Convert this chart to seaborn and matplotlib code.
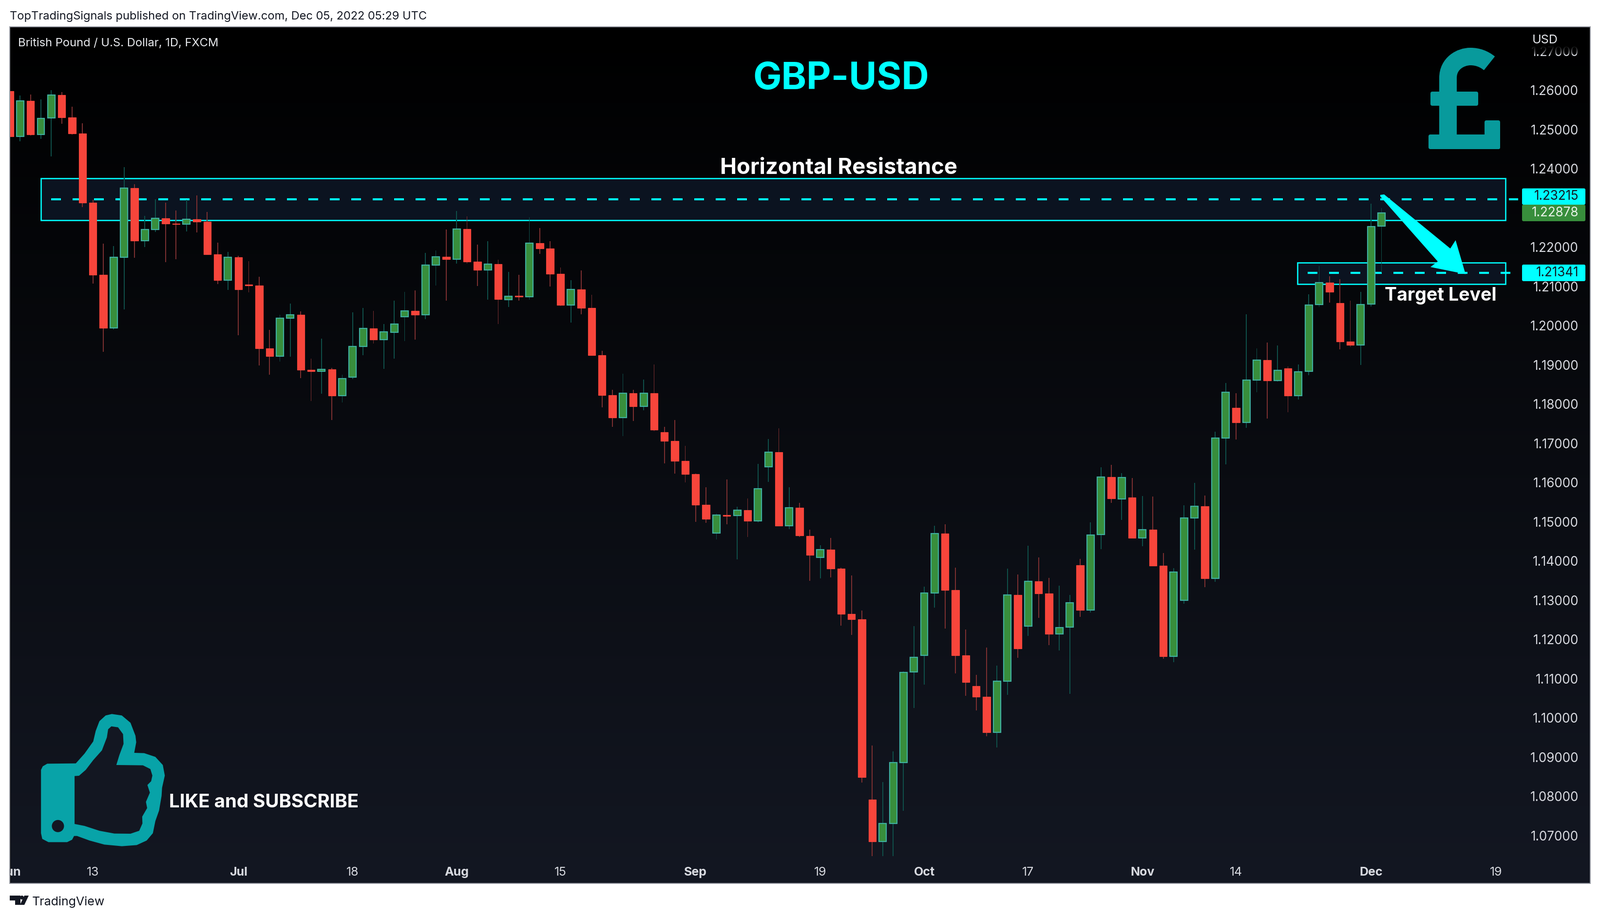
"""GBP-USD daily candles with resistance and target zones, TradingView look."""

import matplotlib

matplotlib.use("Agg")
import matplotlib.pyplot as plt
import numpy as np
import pandas as pd
import seaborn as sns
from matplotlib.patches import Ellipse, FancyBboxPatch, PathPatch, Polygon, Rectangle
from matplotlib.path import Path

# candles, one value per trading day starting Jun 1
candle_open = [
    1.25984, 1.24829, 1.25735, 1.24879, 1.25293, 1.25885, 1.25314, 1.24893, 1.23139, 1.21299,
    1.19944, 1.21749, 1.23503, 1.22169, 1.22455, 1.22740, 1.22597, 1.22583, 1.22718, 1.22647,
    1.21813, 1.21164, 1.21749, 1.21043, 1.21028, 1.19417, 1.19217, 1.20194, 1.20272, 1.18875,
    1.18832, 1.18889, 1.18219, 1.18682, 1.19474, 1.19923, 1.19638, 1.19834, 1.20233, 1.20379,
    1.20272, 1.21539, 1.21761, 1.21698, 1.22458, 1.21628, 1.21425, 1.21564, 1.20658, 1.20760,
    1.20741, 1.22097, 1.21970, 1.21317, 1.20531, 1.20918, 1.20455, 1.19251, 1.18231, 1.17660,
    1.18281, 1.17945, 1.18281, 1.17286, 1.17064, 1.16545, 1.16209, 1.15436, 1.14707, 1.15176,
    1.15155, 1.15298, 1.15020, 1.16399, 1.16779, 1.14894, 1.15353, 1.14640, 1.14086, 1.14284,
    1.13800, 1.12644, 1.12517, 1.07922, 1.06852, 1.07311, 1.08864, 1.11170, 1.11598, 1.13190,
    1.14704, 1.13254, 1.11598, 1.10805, 1.10536, 1.09625, 1.10940, 1.13135, 1.12335, 1.13476,
    1.13167, 1.12144, 1.12311, 1.13895, 1.12755, 1.14672, 1.16146, 1.15587, 1.15613, 1.14592,
    1.14802, 1.13883, 1.11563, 1.13002, 1.15093, 1.15391, 1.13553, 1.17140, 1.17907, 1.17527,
    1.18617, 1.19118, 1.18604, 1.18915, 1.18211, 1.18833, 1.20538, 1.21103, 1.20571, 1.19589,
    1.19501, 1.20549, 1.22534,
]
candle_close = [
    1.24829, 1.25735, 1.24879, 1.25286, 1.25885, 1.25314, 1.24893, 1.23139, 1.21299, 1.19944,
    1.21749, 1.23503, 1.22169, 1.22455, 1.22740, 1.22597, 1.22583, 1.22718, 1.22647, 1.21813,
    1.21164, 1.21749, 1.20929, 1.21028, 1.19417, 1.19217, 1.20194, 1.20272, 1.18868, 1.18832,
    1.18889, 1.18219, 1.18654, 1.19474, 1.19923, 1.19638, 1.19837, 1.20037, 1.20379, 1.20272,
    1.21539, 1.21761, 1.21698, 1.22458, 1.21628, 1.21425, 1.21564, 1.20671, 1.20753, 1.20741,
    1.22097, 1.21970, 1.21317, 1.20531, 1.20918, 1.20455, 1.19251, 1.18231, 1.17660, 1.18281,
    1.17945, 1.18281, 1.17350, 1.17064, 1.16545, 1.16209, 1.15436, 1.15068, 1.15176, 1.15150,
    1.15298, 1.15020, 1.15844, 1.16779, 1.14894, 1.15353, 1.14648, 1.14157, 1.14284, 1.13800,
    1.12644, 1.12517, 1.08492, 1.06852, 1.07311, 1.08864, 1.11162, 1.11550, 1.13190, 1.14704,
    1.13254, 1.11598, 1.10908, 1.10536, 1.09625, 1.10940, 1.13135, 1.11764, 1.13476, 1.13167,
    1.12144, 1.12303, 1.12937, 1.12755, 1.14664, 1.16146, 1.15591, 1.16133, 1.14592, 1.14802,
    1.13883, 1.11563, 1.13724, 1.15093, 1.15391, 1.13553, 1.17140, 1.18306, 1.17527, 1.18617,
    1.19118, 1.18604, 1.18864, 1.18211, 1.18826, 1.20531, 1.21098, 1.20859, 1.19595, 1.19501,
    1.20543, 1.22529, 1.22878,
]
candle_high = [
    1.26000, 1.25863, 1.25892, 1.25770, 1.25999, 1.25956, 1.25578, 1.25164, 1.23203, 1.22091,
    1.22034, 1.24045, 1.23603, 1.22797, 1.23225, 1.23139, 1.22939, 1.23203, 1.23317, 1.22904,
    1.22119, 1.21877, 1.21777, 1.21649, 1.21242, 1.19887, 1.20280, 1.20565, 1.20365, 1.19160,
    1.19666, 1.18925, 1.18746, 1.20337, 1.20451, 1.20372, 1.20037, 1.20633, 1.20855, 1.20893,
    1.21850, 1.21913, 1.22445, 1.22927, 1.22781, 1.22071, 1.22148, 1.21685, 1.21374, 1.21292,
    1.22756, 1.22483, 1.22148, 1.21476, 1.21165, 1.21412, 1.20791, 1.19353, 1.18358, 1.18769,
    1.18370, 1.18630, 1.19004, 1.17426, 1.17597, 1.16938, 1.16222, 1.15879, 1.15214, 1.16082,
    1.15385, 1.15599, 1.16478, 1.17112, 1.17382, 1.15884, 1.15488, 1.14799, 1.14402, 1.14593,
    1.13832, 1.13634, 1.12731, 1.09300, 1.08365, 1.09150, 1.11186, 1.12335, 1.13341, 1.14894,
    1.14941, 1.13824, 1.12248, 1.11099, 1.11796, 1.11328, 1.13800, 1.13650, 1.14395, 1.14094,
    1.13571, 1.13365, 1.13135, 1.14054, 1.14981, 1.16383, 1.16447, 1.16234, 1.16120, 1.15651,
    1.15638, 1.14206, 1.13819, 1.15416, 1.15987, 1.15664, 1.17299, 1.18541, 1.18281, 1.20290,
    1.19416, 1.19574, 1.19498, 1.18966, 1.19016, 1.20804, 1.21525, 1.21264, 1.21181, 1.20638,
    1.20865, 1.23106, 1.22995,
]
candle_low = [
    1.24800, 1.24694, 1.24843, 1.24758, 1.24309, 1.25143, 1.24872, 1.23018, 1.21078, 1.19338,
    1.19902, 1.20408, 1.21734, 1.21998, 1.22390, 1.21613, 1.21699, 1.22405, 1.22376, 1.21813,
    1.21057, 1.20914, 1.19759, 1.20843, 1.18989, 1.18746, 1.19089, 1.19203, 1.18661, 1.18083,
    1.18262, 1.17591, 1.18040, 1.18632, 1.19246, 1.19538, 1.18903, 1.19162, 1.19612, 1.19638,
    1.20170, 1.21026, 1.20633, 1.21577, 1.21577, 1.21007, 1.20658, 1.20037, 1.20481, 1.20633,
    1.20658, 1.21824, 1.20994, 1.20506, 1.20081, 1.20284, 1.19238, 1.17920, 1.17426, 1.17179,
    1.17565, 1.17838, 1.17312, 1.16494, 1.16222, 1.16000, 1.14992, 1.14967, 1.14550, 1.14941,
    1.14046, 1.14609, 1.14981, 1.16011, 1.14880, 1.14807, 1.14616, 1.13499, 1.13555, 1.13579,
    1.12350, 1.12121, 1.08349, 1.06472, 1.06472, 1.06472, 1.07628, 1.10251, 1.10853, 1.12810,
    1.12271, 1.11130, 1.10560, 1.10195, 1.09530, 1.09245, 1.10584, 1.11526, 1.12089, 1.12556,
    1.11851, 1.11717, 1.10607, 1.12580, 1.12691, 1.14307, 1.15488, 1.15042, 1.14592, 1.14371,
    1.13864, 1.11512, 1.11423, 1.12906, 1.14295, 1.13337, 1.13464, 1.16468, 1.17102, 1.17400,
    1.18300, 1.17635, 1.18579, 1.17787, 1.18110, 1.18731, 1.20471, 1.20582, 1.19401, 1.19451,
    1.19002, 1.20482, 1.21359,
]

# axis labels, 1.23000 is hidden behind the price tags in the original
price_ticks = [1.07, 1.08, 1.09, 1.10, 1.11, 1.12, 1.13, 1.14, 1.15, 1.16, 1.17,
               1.18, 1.19, 1.20, 1.21, 1.22, 1.24, 1.25, 1.26, 1.27]
date_tick_pos = [0, 8, 22, 33, 43, 53, 66, 78, 88, 98, 109, 118, 131, 143]
date_tick_labels = ["Jun", "13", "Jul", "18", "Aug", "15", "Sep", "19", "Oct", "17",
                    "Nov", "14", "Dec", "19"]
month_labels = ["Jun", "Jul", "Aug", "Sep", "Oct", "Nov", "Dec"]

# drawn levels
resistance_zone = (1.22689, 1.23759)
resistance_level = 1.23215
target_zone = (1.21060, 1.21603)
target_level = 1.21341
last_price = 1.22878

W, H = 3284, 1884
DPI = 200
LEFT, RIGHT, TOP, BOTTOM = 20, 3264, 54.5, 1813

RED = "#f7453b"
GREEN = "#388e3c"
GREEN_EDGE = "#3fb0a0"
RED_WICK = "#7b2f30"
GREEN_WICK = "#0f4f49"
CYAN = "#00ffff"
TEAL = "#089a9c"
FONT = "Inter"


def px_size(n):
    # pixels to points at the output dpi
    return n * 72 / DPI


def day_x(px):
    # pixel column to candle index
    return 1 + (px - 39.8) / 21.34


sns.set_theme(style="white", rc={"font.family": FONT, "axes.linewidth": 1.0})

frame = pd.DataFrame(
    {"open": candle_open, "high": candle_high, "low": candle_low, "close": candle_close}
)
frame["day"] = frame.index
frame["top"] = frame[["open", "close"]].max(axis=1)
frame["bottom"] = frame[["open", "close"]].min(axis=1)
frame["body"] = frame["top"] - frame["bottom"]
frame["wick"] = frame["high"] - frame["low"]
up = frame[frame["close"] >= frame["open"]]
down = frame[frame["close"] < frame["open"]]

fig = plt.figure(figsize=(W / DPI, H / DPI), dpi=DPI, facecolor="white")
ax = fig.add_axes(
    [LEFT / W, (H - BOTTOM) / H, (RIGHT - LEFT) / W, (BOTTOM - TOP) / H], facecolor="black"
)

xlim = (day_x(LEFT), day_x(RIGHT))
ylim = (1.26 - (BOTTOM - 185.3) / 8050, 1.26 + (185.3 - TOP) / 8050)

# background fades from black to the TradingView dark blue
fade = sns.blend_palette(["#000000", "#131722"], as_cmap=True)
ax.imshow(np.linspace(0, 1, 256)[:, None], extent=[*xlim, *ylim], aspect="auto", cmap=fade, zorder=0)

# zones sit behind the candles
for zone, start, end in [(resistance_zone, 82.6, 3090), (target_zone, 2663, 3090)]:
    ax.add_patch(
        Rectangle(
            (day_x(start), zone[0]), day_x(end) - day_x(start), zone[1] - zone[0],
            facecolor="#0b1320", edgecolor=CYAN, linewidth=px_size(2.6), zorder=0.5,
        )
    )
for level, start, end in [(resistance_level, 104, 3116), (target_level, 2684, 3100)]:
    ax.plot(
        [day_x(start), day_x(end)], [level, level], color=CYAN, linewidth=px_size(4.2),
        linestyle=(0, (20 / 4.2, 24 / 4.2)), dash_capstyle="butt", zorder=0.6,
    )

for subset, wick_color in [(up, GREEN_WICK), (down, RED_WICK)]:
    sns.barplot(
        data=subset, x="day", y="wick", bottom=subset["low"].values, native_scale=True,
        width=0.085, color=wick_color, saturation=1, linewidth=0, errorbar=None, ax=ax, zorder=1,
    )
sns.barplot(
    data=up, x="day", y="body", bottom=up["bottom"].values, native_scale=True, width=0.70,
    color=GREEN, saturation=1, edgecolor=GREEN_EDGE, linewidth=px_size(2.2), errorbar=None,
    ax=ax, zorder=2,
)
sns.barplot(
    data=down, x="day", y="body", bottom=down["bottom"].values, native_scale=True, width=0.72,
    color=RED, saturation=1, edgecolor=RED, linewidth=px_size(1.2), errorbar=None, ax=ax, zorder=2,
)

ax.set_xlim(*xlim)
ax.set_ylim(*ylim)
ax.set_xlabel("")
ax.set_ylabel("")
ax.set_xticks(date_tick_pos)
ax.set_xticklabels(date_tick_labels)
ax.set_yticks(price_ticks)
ax.set_yticklabels([f"{p:.5f}" for p in price_ticks])
ax.yaxis.tick_right()
ax.tick_params(axis="y", length=0, pad=-px_size(24), labelsize=px_size(26), labelcolor="#d8dae0")
ax.tick_params(axis="x", length=0, pad=-px_size(34), labelsize=px_size(25), labelcolor="#d8dae0")
for label in ax.get_yticklabels():
    label.set_ha("right")
for label in ax.get_xticklabels():
    if label.get_text() in month_labels:
        label.set_fontweight("bold")
    label.set_clip_box(ax.bbox)
    label.set_clip_on(True)
for spine in ax.spines.values():
    spine.set_color("#9598a1")
    spine.set_linewidth(px_size(2))

# overlay in image pixels for the annotations and icons
over = fig.add_axes([0, 0, 1, 1], facecolor="none")
over.set_xlim(0, W)
over.set_ylim(H, 0)
over.axis("off")

# price scale top fades out the clipped 1.27000 label
top_fade = np.zeros((32, 1, 4))
top_fade[:, 0, 3] = np.linspace(1, 0, 32) ** 0.5
over.imshow(top_fade, extent=[3130, 3260, 112, 94], aspect="auto", zorder=3)
over.add_patch(Rectangle((3130, 56), 130, 38, facecolor="black", linewidth=0, zorder=3))
over.set_xlim(0, W)
over.set_ylim(H, 0)
over.text(3145, 89, "USD", color="#e6e8ec", fontsize=px_size(25), va="baseline", ha="left", zorder=4)

# price tags
for y0, y1, level, face, ink in [
    (386.6, 420, resistance_level, CYAN, "#131722"),
    (420, 454, last_price, GREEN, "#e8f2e8"),
    (543, 577, target_level, CYAN, "#131722"),
]:
    over.add_patch(
        FancyBboxPatch(
            (3125, y0 + 1), 128, y1 - y0 - 2, boxstyle="round,pad=0,rounding_size=2",
            facecolor=face, edgecolor=face, linewidth=px_size(2), mutation_aspect=1, zorder=3,
        )
    )
    over.text(3240, (y0 + y1) / 2, f"{level:.5f}", color=ink, fontsize=px_size(26),
              ha="right", va="center", zorder=4)

# arrow to target
over.add_patch(
    Polygon(
        [(2833, 400), (2841, 399), (2976.7, 510), (2987.6, 493), (3008, 562.5), (2936, 548),
         (2951, 536.6), (2833, 403)],
        closed=True, facecolor=CYAN, edgecolor="none", zorder=3,
    )
)

# text annotations
fig.text(20 / W, 1 - 40 / H, "TopTradingSignals published on TradingView.com, Dec 05, 2022 05:29 UTC",
         color="#131722", fontsize=px_size(23.6), va="baseline", ha="left")
over.text(36.7, 94.7, "British Pound / U.S. Dollar, 1D, FXCM", color="#e9ebef", fontsize=px_size(23.7),
          va="baseline", ha="left")
over.text(1726.5, 183, "GBP-USD", color=CYAN, fontsize=px_size(78), fontweight="bold", va="baseline", ha="center")
over.text(1721.5, 356.7, "Horizontal Resistance", color="white", fontsize=px_size(45.5), fontweight="bold",
          va="baseline", ha="center")
over.text(2842, 617, "Target Level", color="white", fontsize=px_size(37.5), fontweight="bold",
          va="baseline", ha="left")
over.text(347, 1657, "LIKE and SUBSCRIBE", color="white", fontsize=px_size(38.5), fontweight="bold",
          va="baseline", ha="left")
fig.text(66 / W, 1 - 1858 / H, "TradingView", color="#131722", fontsize=px_size(25), va="baseline", ha="left")

# pound icon
pound = Path(
    [(2972, 280), (2972, 160), (2972, 130), (2998, 116), (3018, 116), (3033, 116), (3046, 121), (3057, 130)],
    [Path.MOVETO, Path.LINETO, Path.CURVE4, Path.CURVE4, Path.CURVE4, Path.CURVE4, Path.CURVE4, Path.CURVE4],
)
over.add_patch(PathPatch(pound, facecolor="none", edgecolor=TEAL, linewidth=px_size(36), capstyle="butt", zorder=2))
for x0, y0, bw, bh in [(2936, 188, 98, 29), (2932, 276, 147, 30), (3047, 247, 32, 59)]:
    over.add_patch(
        FancyBboxPatch((x0 + 3, y0 + 3), bw - 6, bh - 6, boxstyle="round,pad=3,rounding_size=4",
                       facecolor=TEAL, edgecolor="none", zorder=2)
    )

# thumbs up icon, traced in crop coordinates
thumb_outer = np.array([
    (165, 540), (172, 518), (190, 502), (305, 500), (340, 440), (375, 365), (385, 300), (400, 240),
    (425, 205), (450, 196), (490, 205), (525, 250), (545, 330), (548, 370), (540, 435), (580, 437),
    (625, 460), (655, 510), (663, 575), (652, 650), (650, 700), (640, 790), (625, 855), (615, 930),
    (590, 975), (550, 1003), (490, 1010), (420, 1000), (360, 975), (310, 947), (298, 947), (290, 970),
    (270, 985), (195, 985), (170, 965), (165, 930),
], dtype=float)
thumb_inner = np.array([
    (300, 578), (318, 576), (345, 540), (375, 480), (410, 420), (430, 340), (435, 290), (448, 272),
    (475, 278), (495, 320), (497, 380), (480, 450), (468, 510), (575, 512), (605, 535), (613, 575),
    (608, 610), (593, 633), (603, 680), (587, 737), (592, 775), (572, 828), (573, 870), (560, 915),
    (525, 933), (460, 932), (400, 915), (340, 885), (300, 873),
], dtype=float)
crop_scale = np.array([1 / 1.96, 1 / 3])
crop_shift = np.array([0, 1400])
over.add_patch(Polygon(thumb_outer * crop_scale + crop_shift, closed=True, facecolor="#08a3a8", edgecolor="none", zorder=2))
over.add_patch(Polygon(thumb_inner * crop_scale + crop_shift, closed=True, facecolor="#131722", edgecolor="none", zorder=2))
over.add_patch(Ellipse((118.9, 1695.3), 25, 25, facecolor="#131722", edgecolor="none", zorder=2))

# TradingView logo
over.add_patch(Polygon([(20, 1838), (42, 1838), (42, 1857), (31, 1857), (31, 1848), (20, 1848)],
                       closed=True, facecolor="#131722", edgecolor="none", clip_on=False))
over.add_patch(Polygon([(50, 1838), (59, 1838), (50, 1857), (41, 1857)], closed=True,
                       facecolor="#131722", edgecolor="none", clip_on=False))
over.add_patch(Ellipse((45, 1842), 8, 8, facecolor="#131722", edgecolor="none", clip_on=False))

fig.savefig("out.png", dpi=DPI, facecolor="white")
